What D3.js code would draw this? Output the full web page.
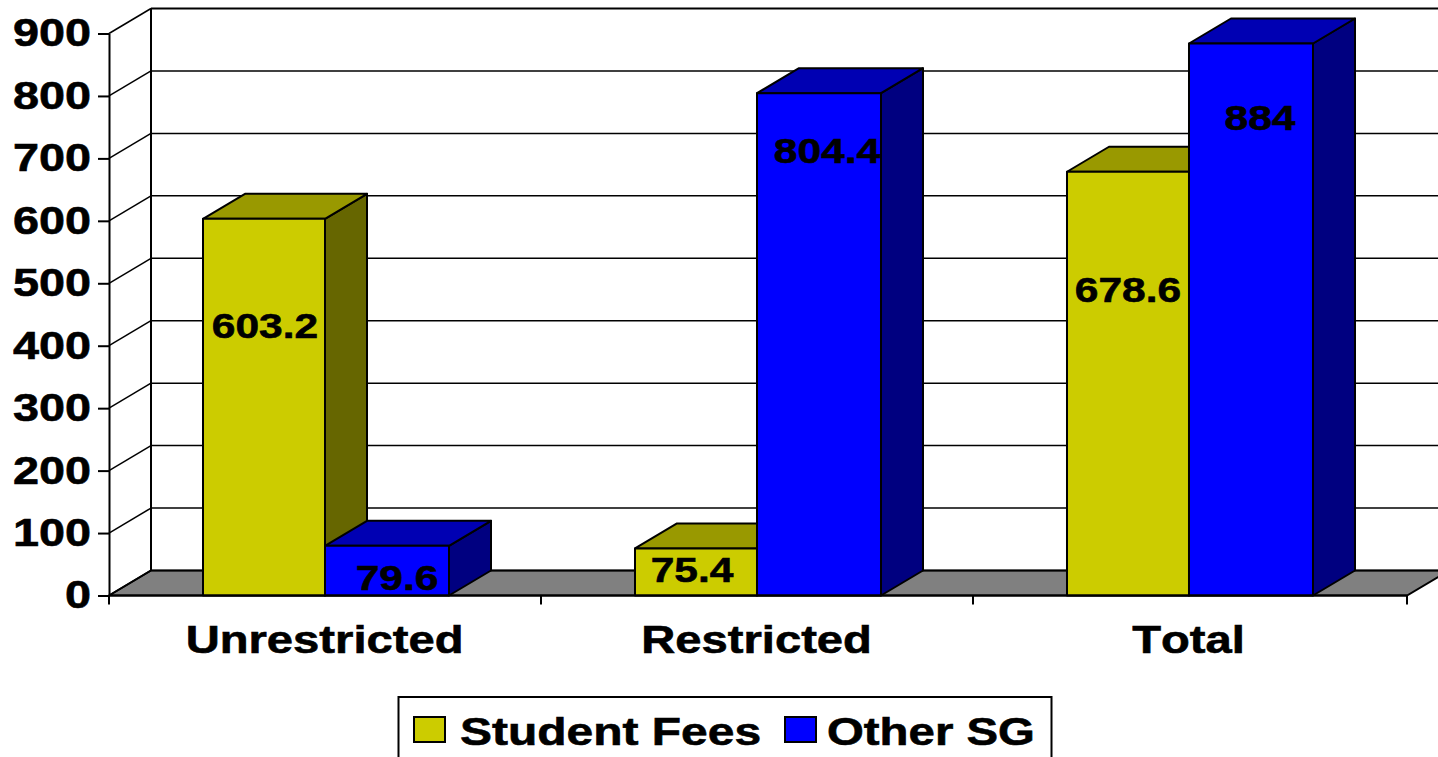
<!DOCTYPE html>
<html>
<head>
<meta charset="utf-8">
<script src="https://cdn.jsdelivr.net/npm/d3@7"></script>
<style>
  html, body { margin: 0; padding: 0; background: #fff; overflow: hidden; }
  text { font-family: "Liberation Sans", Arial, sans-serif; font-weight: bold; fill: #000; stroke: #000; stroke-width: 0.6px; font-kerning: none; }
</style>
</head>
<body>
<svg id="chart" width="1438" height="757"></svg>
<script>
const categories = ['Unrestricted', 'Restricted', 'Total'];
const seriesNames = ['Student Fees', 'Other SG'];
const studentFees = [603.2, 75.4, 678.6];
const otherSG = [79.6, 804.4, 884];
const yTicks = [0, 100, 200, 300, 400, 500, 600, 700, 800, 900];

const colors = {
  'Student Fees': { front: '#cccc00', top: '#999900', side: '#666600' },
  'Other SG': { front: '#0000ff', top: '#0000b3', side: '#000080' }
};

const svg = d3.select('#chart');

// depth of the fake 3d box
const depthX = 42, depthY = -25;
const plotLeft = 109, plotRight = 1407;

let x = d3.scaleBand()
  .domain(categories)
  .range([plotLeft, 1408.1])
  .paddingInner(0.428)
  .paddingOuter(0.2176);

// the two bars in a group are not quite the same width in the original
let barStart = d3.scaleOrdinal().domain(seriesNames).range([0, 122]);
let barWidth = d3.scaleOrdinal().domain(seriesNames).range([122, 124]);

let y = d3.scaleLinear()
  .domain([0, 900])
  .range([595.5, 33.5]);

// floor
svg.append('path')
  .attr('d', d3.line()([[plotLeft, y(0)], [plotLeft + depthX, y(0) + depthY], [plotRight + depthX, y(0) + depthY], [plotRight, y(0)]]) + 'Z')
  .attr('fill', '#808080')
  .attr('stroke', '#000')
  .attr('stroke-width', 2);

// gridlines on back wall + slanted ones on the side wall
svg.selectAll('.grid')
  .data(yTicks)
  .join('line')
  .attr('class', 'grid')
  .attr('x1', plotLeft + depthX)
  .attr('x2', plotRight + depthX)
  .attr('y1', d => y(d) + depthY)
  .attr('y2', d => y(d) + depthY)
  .attr('stroke', '#000')
  .attr('stroke-width', d => d === 900 ? 2 : 1.5);

svg.selectAll('.slant')
  .data(yTicks)
  .join('line')
  .attr('class', 'slant')
  .attr('x1', plotLeft)
  .attr('x2', plotLeft + depthX)
  .attr('y1', d => y(d))
  .attr('y2', d => y(d) + depthY)
  .attr('stroke', '#000')
  .attr('stroke-width', 1.5);

svg.append('line')
  .attr('x1', plotLeft + depthX)
  .attr('x2', plotLeft + depthX)
  .attr('y1', y(900) + depthY)
  .attr('y2', y(0) + depthY)
  .attr('stroke', '#000')
  .attr('stroke-width', 2);

// y axis
let yAxis = svg.append('g')
  .attr('transform', `translate(${plotLeft},0)`)
  .call(d3.axisLeft(y).tickValues(yTicks).tickSize(11).tickSizeOuter(0));
yAxis.select('.domain').attr('stroke-width', 2);
yAxis.selectAll('line').attr('stroke-width', 2);
yAxis.selectAll('text')
  .attr('x', 0)
  .attr('text-anchor', 'end')
  .attr('font-size', 39)
  .attr('transform', 'translate(-18,0) scale(1.2,1)');

// bars, one box at a time, yellow first so blue sits on top
function drawBox(g, name, value, cat) {
  let x0 = x(cat) + barStart(name);
  let x1 = x0 + barWidth(name);
  let y0 = y(0), yt = y(value);
  let c = colors[name];
  let line = d3.line();
  let face = (pts, fill) => g.append('path')
    .attr('d', line(pts) + 'Z')
    .attr('fill', fill)
    .attr('stroke', '#000')
    .attr('stroke-width', 2)
    .attr('stroke-linejoin', 'round');
  face([[x1, y0], [x1 + depthX, y0 + depthY], [x1 + depthX, yt + depthY], [x1, yt]], c.side);
  face([[x0, yt], [x0 + depthX, yt + depthY], [x1 + depthX, yt + depthY], [x1, yt]], c.top);
  face([[x0, y0], [x0, yt], [x1, yt], [x1, y0]], c.front);
}

let bars = svg.append('g');
categories.forEach((cat, i) => {
  drawBox(bars, 'Student Fees', studentFees[i], cat);
  drawBox(bars, 'Other SG', otherSG[i], cat);
});

// data labels sit at odd heights in the original, so each one gets a nudge
const labelNudgeFees = [[1, 106], [-4, 21], [0, 117]];
const labelNudgeOther = [[10, 31], [8, 57], [9, 74]];

function addLabel(name, value, cat, nudge) {
  let cx = x(cat) + barStart(name) + barWidth(name) / 2 + nudge[0];
  let cy = y(value) + nudge[1];
  svg.append('text')
    .attr('transform', `translate(${cx},${cy}) scale(1.18,1)`)
    .attr('text-anchor', 'middle')
    .attr('dy', '.36em')
    .attr('font-size', 36)
    .text(value);
}
categories.forEach((cat, i) => {
  addLabel('Student Fees', studentFees[i], cat, labelNudgeFees[i]);
  addLabel('Other SG', otherSG[i], cat, labelNudgeOther[i]);
});

// x axis: category names from the band scale, ticks on the category edges
let xAxis = svg.append('g')
  .attr('transform', `translate(0,${y(0)})`)
  .call(d3.axisBottom(x).tickSize(0).tickPadding(0));
xAxis.select('.domain').remove();
xAxis.selectAll('text')
  .attr('y', 0)
  .attr('dy', 0)
  .attr('font-size', 39)
  .attr('transform', 'translate(-2,57) scale(1.21,1)');

let edges = [plotLeft, plotLeft + x.step(), plotLeft + 2 * x.step(), plotRight];
svg.selectAll('.xtick')
  .data(edges)
  .join('line')
  .attr('class', 'xtick')
  .attr('x1', d => d)
  .attr('x2', d => d)
  .attr('y1', y(0))
  .attr('y2', y(0) + 9)
  .attr('stroke', '#000')
  .attr('stroke-width', 2);
svg.append('line')
  .attr('x1', plotLeft).attr('x2', plotRight)
  .attr('y1', y(0)).attr('y2', y(0))
  .attr('stroke', '#000')
  .attr('stroke-width', 2);

// legend
let legend = svg.append('g');
legend.append('rect')
  .attr('x', 398.5).attr('y', 697)
  .attr('width', 653).attr('height', 70)
  .attr('fill', '#fff')
  .attr('stroke', '#000')
  .attr('stroke-width', 2);

const legendSwatchX = [414, 785];
const legendTextX = [460, 827];
const legendStretch = [1.23, 1.215];
seriesNames.forEach((name, i) => {
  legend.append('rect')
    .attr('x', legendSwatchX[i]).attr('y', 717)
    .attr('width', 31).attr('height', 25)
    .attr('fill', colors[name].front)
    .attr('stroke', '#000')
    .attr('stroke-width', 2);
  legend.append('text')
    .attr('transform', `translate(${legendTextX[i]},745) scale(${legendStretch[i]},1)`)
    .attr('font-size', 39)
    .text(name);
});
</script>
</body>
</html>
